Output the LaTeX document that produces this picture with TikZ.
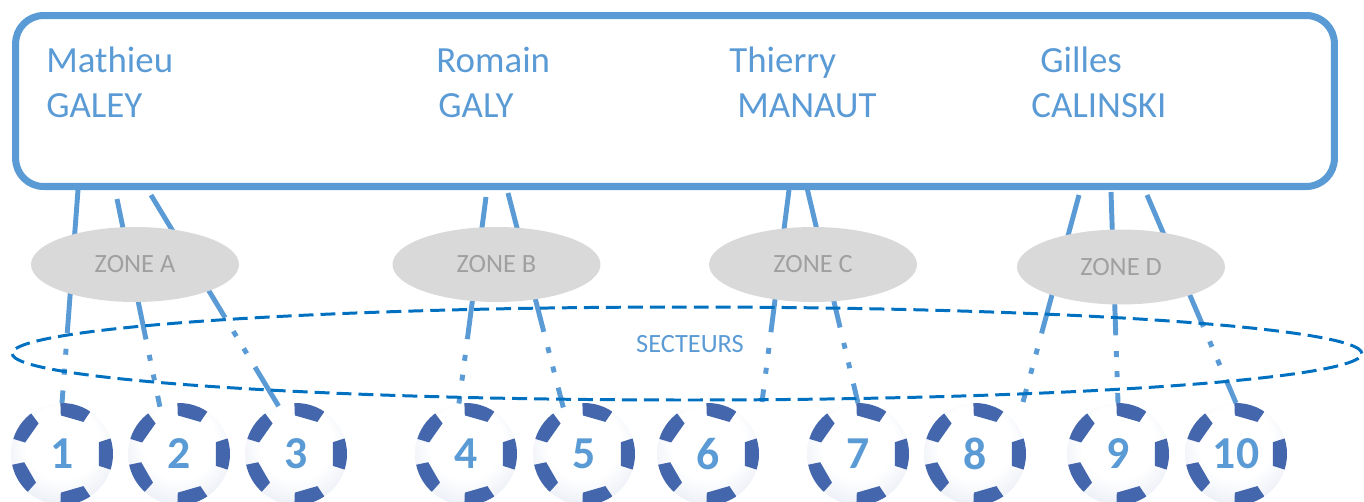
\documentclass[tikz,border=0pt]{standalone}
\usepackage{fontspec}
\setmainfont{Carlito}
\usetikzlibrary{shapes.geometric}

\definecolor{linkblue}{RGB}{91,155,213}
\definecolor{dashblue}{RGB}{0,112,192}
\definecolor{zonegray}{RGB}{217,217,217}
\definecolor{zonetext}{RGB}{160,160,160}
\definecolor{patchblue}{RGB}{68,102,172}
\definecolor{ballmid}{RGB}{222,228,240}
\definecolor{ballrim}{RGB}{180,192,220}

\pgfdeclareradialshading{ballshade}{\pgfpoint{0bp}{8bp}}{color(0bp)=(white); color(18bp)=(white);
  color(38bp)=(ballmid); color(50bp)=(ballrim); color(60bp)=(ballrim)}

\tikzset{
  patches/.pic={
    \clip (0,0) circle [radius=1.02cm];
    \fill[patchblue] (20.1,-70.1) -- (34.6,-51.6) -- (21.4,-32.1) -- (-1.2,-38.6) -- (-2.0,-62.1) -- cycle;
    \fill[patchblue] (-59.8,-41.9) -- (-37.6,-49.5) -- (-23.4,-30.7) -- (-36.9,-11.5) -- (-59.4,-18.4) -- cycle;
    \fill[patchblue] (73,0) -- (59.2,19) -- (36.8,11.8) -- (36.8,-11.8) -- (59.2,-19) -- cycle;
    \fill[patchblue] (-63.2,36.5) -- (-60.8,13.1) -- (-37.8,8.2) -- (-26.0,28.6) -- (-41.7,46.1) -- cycle;
    \fill[patchblue] (20.1,70.1) -- (-2.0,62.1) -- (-1.2,38.6) -- (21.4,32.1) -- (34.6,51.6) -- cycle;
  }
}

\begin{document}
\begin{tikzpicture}[x=0.02cm, y=-0.02cm,
    person/.style={anchor=base west, inner sep=0pt, text=linkblue, font=\fontsize{21}{25}\selectfont},
    zone/.style={ellipse, fill=zonegray, minimum width=4.16cm, minimum height=1.5cm, inner sep=0pt,
      text=zonetext, font=\fontsize{15}{18}\selectfont},
    link/.style={linkblue, line width=2.8pt, dash pattern=on 81.6pt off 9pt on 3.4pt off 8pt on 3.4pt off 9pt},
    ball/.style={circle, minimum size=2.04cm, inner sep=0pt, outer sep=0pt,
      shading=ballshade, text=linkblue, font=\bfseries\fontsize{26}{30}\selectfont},
  ]
    \useasboundingbox (0,0) rectangle (1364,501);

    % Board with the four names
    \node[draw=linkblue, line width=4pt, rounded corners=0.56cm, minimum width=26.38cm,
      minimum height=3.42cm, inner sep=0pt] (board) at (675,101) {};
    \node[person] (first1) at (46,72) {Mathieu};
    \node[person] (last1) at (46,117) {GALEY};
    \node[person] (first2) at (436,72) {Romain};
    \node[person] (last2) at (438,117) {GALY};
    \node[person] (first3) at (729,72) {Thierry};
    \node[person] (last3) at (737,117) {MANAUT};
    \node[person] (first4) at (1040,72) {Gilles};
    \node[person] (last4) at (1031,117) {CALINSKI};

    % Balls, with their dark patches along the rim
    \foreach \n/\x in {1/62, 2/179, 3/296, 4/466, 5/584, 6/708, 7/858, 8/975, 9/1118, 10/1236} {
      \node[ball] (b\n) at (\x,454) {};
      \pic at (b\n.center) {patches};
      \node[text=linkblue, font=\bfseries\fontsize{26}{30}\selectfont] (n\n) at (b\n.center) {\n};
    }

    % Start points under the board, free ends
    \coordinate (s1) at (78,190);
    \coordinate (s2) at (117,199);
    \coordinate (s3) at (151,195);
    \coordinate (s4) at (486,197);
    \coordinate (s5) at (508,193);
    \coordinate (s6) at (789,190);
    \coordinate (s7) at (807,188);
    \coordinate (s8) at (1079,195);
    \coordinate (s9) at (1111,192);
    \coordinate (s10) at (1147,195);
    \coordinate (e6) at (762,402);
    \coordinate (e8) at (1023,402);

    % Links board -> balls
    \draw[link] (s1) -- (b1.north);
    \draw[link] (s2) -- (b2.112);
    \draw[link] (s3) -- (b3.110);
    \draw[link] (s4) -- (b4.98);
    \draw[link] (s5) -- (b5.114);
    \draw[link] (s6) -- (e6);
    \draw[link] (s7) -- (b7.north);
    \draw[link] (s8) -- (e8);
    \draw[link] (s9) -- (b9.north);
    \draw[link] (s10) -- (b10.north);

    % Zones
    \node[zone] (zoneA) at (135,264.5) {ZONE A};
    \node[zone] (zoneB) at (496.5,264.5) {ZONE B};
    \node[zone] (zoneC) at (813,264.5) {ZONE C};
    \node[zone] (zoneD) at (1121,267) {ZONE D};

    % Sectors
    \node[ellipse, draw=dashblue, line width=1.7pt, dash pattern=on 8.5pt off 4pt,
      minimum width=27cm, minimum height=1.86cm, inner sep=0pt] (secteurs) at (687,353.5) {};
    \node[text=linkblue, font=\fontsize{15}{18}\selectfont] (sectlabel) at (690,344) {SECTEURS};
\end{tikzpicture}
\end{document}
